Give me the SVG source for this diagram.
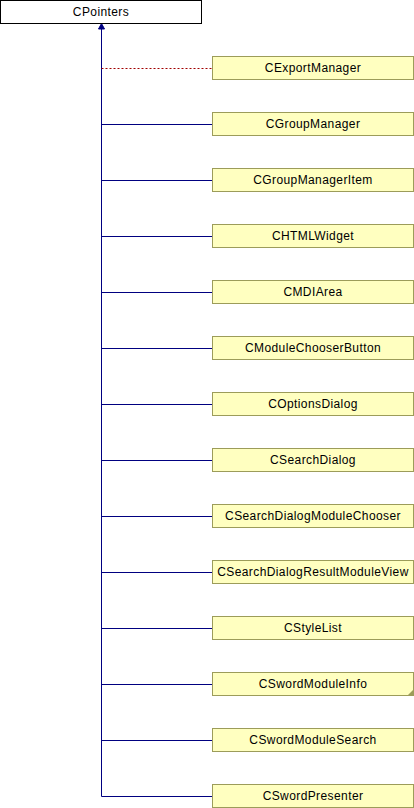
<svg xmlns="http://www.w3.org/2000/svg" width="414" height="808" viewBox="0 0 414 808">
<style>
.root{fill:#ffffff;stroke:#000000;stroke-width:1}
.box{fill:#ffffc0;stroke:#9c9c5a;stroke-width:1}
.t{font-family:"Liberation Sans",Arial,sans-serif;font-size:12px;fill:#000000;text-anchor:middle;letter-spacing:0.4px}
.e{stroke:#000080;stroke-width:1;fill:none}
.d{stroke:#a00000;stroke-width:1;fill:none;stroke-dasharray:2,2}
</style>
<rect width="414" height="808" fill="#ffffff"/>
<g id="connectors">
<path class="e" d="M101.5,29V796.5"/>
<polygon points="101.5,23.5 98.5,29 104.5,29" fill="#000080" stroke="#000080" stroke-width="1"/>
<path class="d" d="M101.5,68.5H212"/>
<path class="e" d="M101.5,124.5H212"/>
<path class="e" d="M101.5,180.5H212"/>
<path class="e" d="M101.5,236.5H212"/>
<path class="e" d="M101.5,292.5H212"/>
<path class="e" d="M101.5,348.5H212"/>
<path class="e" d="M101.5,404.5H212"/>
<path class="e" d="M101.5,460.5H212"/>
<path class="e" d="M101.5,516.5H212"/>
<path class="e" d="M101.5,572.5H212"/>
<path class="e" d="M101.5,628.5H212"/>
<path class="e" d="M101.5,684.5H212"/>
<path class="e" d="M101.5,740.5H212"/>
<path class="e" d="M101.5,796.5H212"/>
</g>
<g id="CPointers"><rect class="root" x="0.5" y="0.5" width="201" height="23"/><text class="t" x="101" y="16">CPointers</text></g>
<g id="CExportManager"><rect class="box" x="212.5" y="56.5" width="201" height="23"/><text class="t" x="313" y="72">CExportManager</text></g>
<g id="CGroupManager"><rect class="box" x="212.5" y="112.5" width="201" height="23"/><text class="t" x="313" y="128">CGroupManager</text></g>
<g id="CGroupManagerItem"><rect class="box" x="212.5" y="168.5" width="201" height="23"/><text class="t" x="313" y="184">CGroupManagerItem</text></g>
<g id="CHTMLWidget"><rect class="box" x="212.5" y="224.5" width="201" height="23"/><text class="t" x="313" y="240">CHTMLWidget</text></g>
<g id="CMDIArea"><rect class="box" x="212.5" y="280.5" width="201" height="23"/><text class="t" x="313" y="296">CMDIArea</text></g>
<g id="CModuleChooserButton"><rect class="box" x="212.5" y="336.5" width="201" height="23"/><text class="t" x="313" y="352">CModuleChooserButton</text></g>
<g id="COptionsDialog"><rect class="box" x="212.5" y="392.5" width="201" height="23"/><text class="t" x="313" y="408">COptionsDialog</text></g>
<g id="CSearchDialog"><rect class="box" x="212.5" y="448.5" width="201" height="23"/><text class="t" x="313" y="464">CSearchDialog</text></g>
<g id="CSearchDialogModuleChooser"><rect class="box" x="212.5" y="504.5" width="201" height="23"/><text class="t" x="313" y="520">CSearchDialogModuleChooser</text></g>
<g id="CSearchDialogResultModuleView"><rect class="box" x="212.5" y="560.5" width="201" height="23"/><text class="t" x="313" y="576">CSearchDialogResultModuleView</text></g>
<g id="CStyleList"><rect class="box" x="212.5" y="616.5" width="201" height="23"/><text class="t" x="313" y="632">CStyleList</text></g>
<g id="CSwordModuleInfo"><rect class="box" x="212.5" y="672.5" width="201" height="23"/><polygon points="413,690 413,695 408,695" fill="#9c9c5a"/><text class="t" x="313" y="688">CSwordModuleInfo</text></g>
<g id="CSwordModuleSearch"><rect class="box" x="212.5" y="728.5" width="201" height="23"/><text class="t" x="313" y="744">CSwordModuleSearch</text></g>
<g id="CSwordPresenter"><rect class="box" x="212.5" y="784.5" width="201" height="23"/><text class="t" x="313" y="800">CSwordPresenter</text></g>
</svg>
